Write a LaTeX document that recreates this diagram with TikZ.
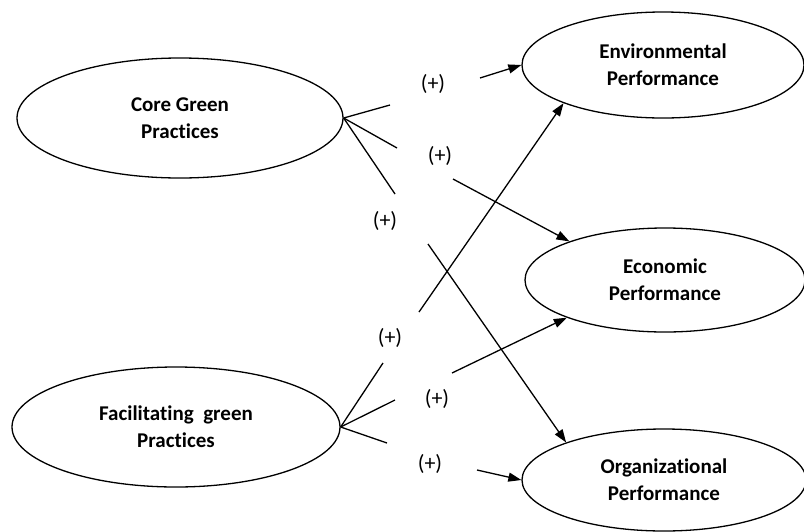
\documentclass[tikz,border=0pt]{standalone}
\usepackage{fontspec}
\setmainfont{Carlito}[Ligatures=NoCommon]
\usetikzlibrary{shapes.geometric,arrows.meta}
\begin{document}
\begin{tikzpicture}[x=1pt,y=-1pt,
  construct/.style={ellipse,draw,line width=1.3pt,inner sep=0pt,align=center,
    font=\fontsize{21}{27}\selectfont\bfseries},
  link/.style={line width=1.3pt},
  arr/.style={line width=1.3pt,-{Triangle[length=13pt,width=9pt]}},
  sign/.style={font=\fontsize{22}{27}\selectfont,inner sep=0pt}]
\useasboundingbox (0,0) rectangle (804,531);
\fill[white] (0,0) rectangle (804,531);
% constructs
\node[construct,minimum width=326pt,minimum height=120pt] (core) at (180,118) {Core Green\\Practices};
\node[construct,minimum width=328pt,minimum height=120pt] (facil) at (176,427) {Facilitating\ \ green\\Practices};
\node[construct,minimum width=282pt,minimum height=106pt] (env) at (663,65) {Environmental\\Performance};
\node[construct,minimum width=280pt,minimum height=104pt] (econ) at (665,280) {Economic\\Performance};
\node[construct,minimum width=284pt,minimum height=102pt] (org) at (664,480) {Organizational\\Performance};
% signs
\node[sign] (s1) at (433,84) {(+)};
\node[sign] (s2) at (440,156) {(+)};
\node[sign] (s3) at (385,221) {(+)};
\node[sign] (s4) at (390,338) {(+)};
\node[sign] (s5) at (437,399) {(+)};
\node[sign] (s6) at (430,464) {(+)};
% gap ends
\coordinate (a1) at (390,105); \coordinate (b1) at (480,78);
\coordinate (a2) at (397,148); \coordinate (b2) at (453,179);
\coordinate (a3) at (395,194); \coordinate (b3) at (428,244);
\coordinate (a4) at (383,363); \coordinate (b4) at (419,312);
\coordinate (a5) at (395,400); \coordinate (b5) at (452,373);
\coordinate (a6) at (387,443); \coordinate (b6) at (477,470);
% paths
\draw[link] (core.east) -- (a1); \draw[arr] (b1) -- (env.west);
\draw[link] (core.east) -- (a2); \draw[arr] (b2) -- (econ.158.8);
\draw[link] (core.east) -- (a3); \draw[arr] (b3) -- (org.159.9);
\draw[link] (facil.east) -- (a4); \draw[arr] (b4) -- (env.201.8);
\draw[link] (facil.east) -- (a5); \draw[arr] (b5) -- (econ.201.3);
\draw[link] (facil.east) -- (a6); \draw[arr] (b6) -- (org.west);
\end{tikzpicture}
\end{document}
